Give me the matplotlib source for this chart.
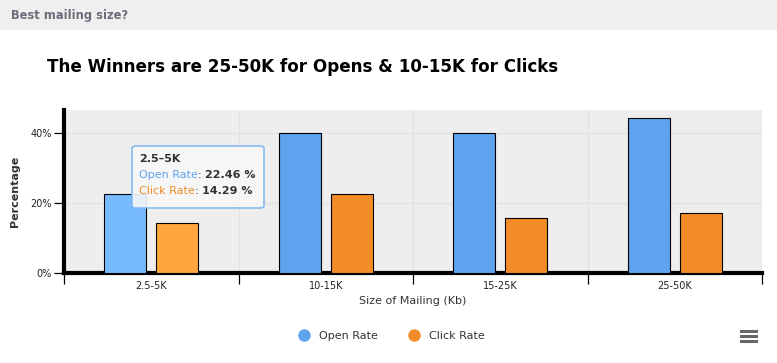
import matplotlib.pyplot as plt
from matplotlib.patches import Rectangle, FancyBboxPatch
from matplotlib.lines import Line2D

categories = ['2.5-5K', '10-15K', '15-25K', '25-50K']
open_rate = [22.46, 40.0, 40.0, 44.2]
click_rate = [14.29, 22.5, 15.6, 17.1]
series_names = ['Open Rate', 'Click Rate']
y_ticks = [0, 20, 40]

blue = '#5fa3ee'
orange = '#f28c28'
blue_hi = '#78baff'
orange_hi = '#ffa63e'

fig = plt.figure(figsize=(7.77, 3.63), dpi=100)
ax = fig.add_axes([64 / 777, 1 - 273 / 363, 698 / 777, 163 / 363])

# header strip
fig.add_artist(Rectangle((0, 1 - 30 / 363), 1, 30 / 363, transform=fig.transFigure,
                         facecolor='#efefef', edgecolor='none', zorder=0))
fig.text(11 / 777, 1 - 15.5 / 363, 'Best mailing size?', fontsize=8.3, fontweight='bold',
         color='#6d6d7a', va='center', ha='left')
fig.text(47 / 777, 1 - 67 / 363, 'The Winners are 25-50K for Opens & 10-15K for Clicks',
         fontsize=12.1, fontweight='bold', color='black', va='center', ha='left')

x = list(range(len(categories)))
w = 0.24
off = 0.15
for i in x:
    ax.bar(i - off, open_rate[i], width=w, color=blue_hi if i == 0 else blue,
           edgecolor='black', linewidth=0.8, zorder=3)
    ax.bar(i + off, click_rate[i], width=w, color=orange_hi if i == 0 else orange,
           edgecolor='black', linewidth=0.8, zorder=3)

ax.set_facecolor('#eeeeee')
ax.set_xlim(-0.5, len(categories) - 0.5)
ax.set_ylim(0, 46.6)

ax.set_xticks([i - 0.5 for i in range(len(categories) + 1)])
ax.set_xticklabels([])
ax.set_xticks(x, minor=True)
ax.set_xticklabels(categories, minor=True, fontsize=7, color='#222222')
ax.tick_params(axis='x', which='major', length=8, width=0.9, color='black')
ax.tick_params(axis='x', which='minor', length=0, pad=6)

ax.set_yticks(y_ticks)
ax.set_yticklabels([f'{v}%' for v in y_ticks], fontsize=7, color='#222222')
ax.tick_params(axis='y', length=7, width=0.9, pad=2)

ax.grid(True, which='major', color='#e2e2e2', linewidth=1, zorder=0)
ax.set_axisbelow(True)

for s in ['top', 'right']:
    ax.spines[s].set_visible(False)
ax.spines['left'].set_linewidth(3)
ax.spines['bottom'].set_linewidth(3)

ax.set_xlabel('Size of Mailing (Kb)', fontsize=8, color='#333333', labelpad=3)
ax.set_ylabel('Percentage', fontsize=8, fontweight='bold', color='#333333', labelpad=7)

# tooltip (hover on first category)
tip = FancyBboxPatch((132 / 777, 1 - 208 / 363), 132 / 777, 62 / 363,
                     boxstyle='round,pad=0,rounding_size=0.006',
                     transform=fig.transFigure, facecolor='#f7f7f7',
                     edgecolor='#7cb5ec', linewidth=1.2, alpha=0.9, zorder=5, clip_on=False)
ax.add_artist(tip)
ax.text(139 / 777, 1 - 159 / 363, categories[0].replace('-', '\u2013'), fontsize=8,
        fontweight='bold', color='#333333', va='center', transform=fig.transFigure,
        zorder=6, clip_on=False)
tt_rows = [(series_names[0], blue, open_rate[0], 175), (series_names[1], orange, click_rate[0], 191)]
for name, col, val, ypix in tt_rows:
    t1 = ax.text(139 / 777, 1 - ypix / 363, name, fontsize=8, color=col, va='center',
                 transform=fig.transFigure, zorder=6, clip_on=False)
    a1 = ax.annotate(': ', xy=(1, 0.5), xycoords=t1, va='center', ha='left',
                     fontsize=8, color='#333333', zorder=6, annotation_clip=False)
    ax.annotate(f'{val:.2f} %', xy=(1, 0.5), xycoords=a1, va='center', ha='left',
                fontsize=8, fontweight='bold', color='#333333', zorder=6, annotation_clip=False)

# legend
handles = [Line2D([], [], marker='o', linestyle='none', markersize=8, color=c)
           for c in [blue, orange]]
fig.legend(handles, series_names, loc='center', bbox_to_anchor=(389 / 777, 1 - 336 / 363),
           ncol=2, frameon=False, fontsize=8, handletextpad=0.4, columnspacing=2.2,
           labelcolor='#333333')

# menu icon
for yp in [331, 336, 341]:
    fig.add_artist(Line2D([741 / 777, 756 / 777], [1 - yp / 363, 1 - yp / 363],
                          transform=fig.transFigure, color='#666666', linewidth=2.2))

fig.savefig('out.png', dpi=100)
